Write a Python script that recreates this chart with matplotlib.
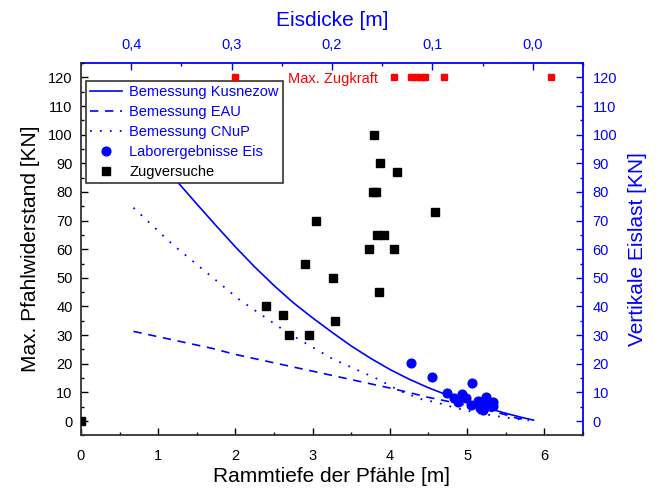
import matplotlib
matplotlib.use("Agg")
import matplotlib.pyplot as plt
from matplotlib.ticker import MultipleLocator, FuncFormatter

plt.rcParams['font.family'] = ['Liberation Sans', 'DejaVu Sans']

# --- data ---
kus_x = [0.68, 1.0, 1.25, 1.5, 1.75, 2.0, 2.25, 2.5, 2.75, 3.0, 3.25, 3.5, 3.75, 4.0, 4.25, 4.5, 4.75, 5.0, 5.25, 5.5, 5.7, 5.86]
kus_y = [102, 92, 83.5, 75.8, 68.2, 60.8, 53.8, 47.3, 41.3, 36.0, 31.0, 26.2, 21.9, 18.0, 14.6, 11.6, 9.0, 6.7, 4.6, 2.7, 1.3, 0.3]

eau_x = [0.68, 1.71, 1.99, 3.05, 4.02, 4.33, 4.49, 5.0, 5.47, 5.63, 5.8]
eau_y = [31.3, 25.3, 23.3, 17.1, 11.4, 9.4, 8.3, 5.5, 2.4, 1.1, 0.3]

cnup_x = [0.68, 1.18, 2.06, 2.66, 3.25, 3.83, 4.13, 4.41, 4.6, 4.82, 5.0, 5.13, 5.5, 5.8]
cnup_y = [74.5, 61.8, 42.2, 31.1, 21.8, 14.8, 10.5, 7.6, 6.5, 4.8, 3.6, 2.8, 1.2, 0.2]

eis_x = [4.28, 4.55, 5.06, 4.74, 4.83, 4.93, 4.98, 4.88, 5.05, 5.14, 5.25, 5.21, 5.33, 5.33, 5.17, 5.21, 5.27]
eis_y = [20.1, 15.4, 13.2, 9.7, 8.2, 9.6, 8.2, 6.5, 5.7, 7.1, 8.5, 7.1, 6.7, 5.1, 4.5, 3.8, 6.1]

zug_x = [0.0, 3.80, 3.87, 4.09, 3.78, 3.82, 4.59, 3.04, 3.83, 3.92, 3.73, 4.05, 2.90, 3.26, 3.86, 2.40, 2.61, 3.29, 2.70, 2.95]
zug_y = [0, 100, 90, 87, 80, 80, 73, 70, 65, 65, 60, 60, 55, 50, 45, 40, 37, 35, 30, 30]

maxzug_x = [2.0, 4.05, 4.27, 4.34, 4.40, 4.46, 4.70, 6.09]
maxzug_y = [120, 120, 120, 120, 120, 120, 120, 120]

x_ticks = [0, 1, 2, 3, 4, 5, 6]
y_ticks = [0, 10, 20, 30, 40, 50, 60, 70, 80, 90, 100, 110, 120]
top_ticks = [0.4, 0.3, 0.2, 0.1, 0.0]

BLUE = '#0000FF'
RED = '#FF0000'
DARK = '#333333'

fig = plt.figure(figsize=(6.61, 4.90), dpi=100)
ax = fig.add_axes([0.1225, 0.1116, 0.7594, 0.7596])

ax.plot(kus_x, kus_y, color=BLUE, lw=1.2, label='Bemessung Kusnezow')
ax.plot(eau_x, eau_y, color=BLUE, lw=1.2, ls=(0, (5, 4)), label='Bemessung EAU')
ax.plot(cnup_x, cnup_y, color=BLUE, lw=1.3, ls=(0, (1, 4.5)), label='Bemessung CNuP')
ax.plot(eis_x, eis_y, 'o', color=BLUE, ms=6.3, mec=BLUE, label='Laborergebnisse Eis', zorder=4)
ax.plot(zug_x, zug_y, 's', color='black', ms=5.5, label='Zugversuche', zorder=4)
ax.plot(maxzug_x, maxzug_y, 's', color=RED, ms=5, zorder=6, clip_on=False)
ax.text(2.68, 119.6, 'Max. Zugkraft', color=RED, fontsize=10.5, va='center', ha='left')

ax.set_xlim(0, 6.5)
ax.set_ylim(-5, 125)
ax.set_xticks(x_ticks)
ax.set_yticks(y_ticks)
ax.xaxis.set_minor_locator(MultipleLocator(0.5))
ax.yaxis.set_minor_locator(MultipleLocator(5))
ax.tick_params(which='both', direction='in', labelsize=10.5, colors='black')
ax.tick_params(which='major', length=5, width=1)
ax.tick_params(which='minor', length=2.5, width=1)
ax.tick_params(axis='x', which='major', pad=10)
ax.tick_params(axis='y', which='major', pad=6)
ax.tick_params(axis='both', which='both', top=False, right=False)
ax.set_xlabel('Rammtiefe der Pfähle [m]', fontsize=15, labelpad=3)
ax.set_ylabel('Max. Pfahlwiderstand [KN]', fontsize=15, labelpad=6)
for s in ['left', 'bottom']:
    ax.spines[s].set_color(DARK)
    ax.spines[s].set_linewidth(1.3)
ax.spines['top'].set_visible(False)
ax.spines['right'].set_visible(False)

# right axis
axr = ax.twinx()
axr.set_ylim(-5, 125)
axr.set_yticks(y_ticks)
axr.yaxis.set_minor_locator(MultipleLocator(5))
axr.tick_params(which='both', direction='in', labelsize=10.5, colors=BLUE)
axr.tick_params(which='major', length=5, width=1, pad=7)
axr.tick_params(which='minor', length=2.5, width=1)
axr.set_ylabel('Vertikale Eislast [KN]', fontsize=15, color=BLUE, labelpad=8)
for s in ['left', 'bottom', 'top']:
    axr.spines[s].set_visible(False)
axr.spines['right'].set_color(BLUE)
axr.spines['right'].set_linewidth(1.3)

# top axis
axt = ax.twiny()
axt.set_xlim(0.45, -0.05)
axt.set_xticks(top_ticks)
axt.xaxis.set_minor_locator(MultipleLocator(0.05))
axt.xaxis.set_major_formatter(FuncFormatter(lambda v, p: ('%.1f' % abs(v)).replace('.', ',')))
axt.tick_params(which='both', direction='in', labelsize=10.5, colors=BLUE)
axt.tick_params(which='major', length=5, width=1, pad=8)
axt.tick_params(which='minor', length=2.5, width=1)
axt.set_xlabel('Eisdicke [m]', fontsize=15, color=BLUE, labelpad=9)
for s in ['left', 'bottom', 'right']:
    axt.spines[s].set_visible(False)
axt.spines['top'].set_color(BLUE)
axt.spines['top'].set_linewidth(1.3)

ax.set_zorder(axt.get_zorder() + 1)
ax.patch.set_visible(False)

leg = ax.legend(loc='upper left', bbox_to_anchor=(0.01, 0.952), fontsize=10.5,
                frameon=True, fancybox=False, edgecolor=DARK, framealpha=1,
                handlelength=2.2, labelspacing=0.4, borderpad=0.3, handletextpad=0.45,
                borderaxespad=0)
leg.get_frame().set_linewidth(1.2)
leg.set_zorder(5)
for t, c in zip(leg.get_texts(), [BLUE, BLUE, BLUE, BLUE, 'black']):
    t.set_color(c)

fig.savefig('out.png', dpi=100)
